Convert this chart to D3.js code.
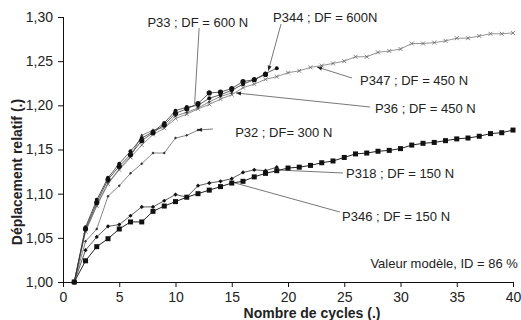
<!DOCTYPE html>
<html>
<head>
<meta charset="utf-8">
<script src="https://cdn.jsdelivr.net/npm/d3@7"></script>
<style>
  body { margin: 0; background: #fff; }
  text { font-family: "Liberation Sans", Arial, sans-serif; fill: #222; }
</style>
</head>
<body>
<svg id="chart"></svg>
<script>
document.addEventListener('DOMContentLoaded', function () {
    const width = 521, height = 320;
    const svg = d3.select("#chart").attr("width", width).attr("height", height);

    // values, cycle 1..n
    const p33  = [1.000, 1.060, 1.090, 1.116, 1.131, 1.144, 1.160, 1.169, 1.178, 1.191, 1.196, 1.202, 1.214, 1.215, 1.219, 1.227, 1.229, 1.235];
    const p344 = [1.000, 1.062, 1.093, 1.118, 1.134, 1.148, 1.163, 1.170, 1.180, 1.194, 1.198, 1.200, 1.208, 1.212, 1.217, 1.224, 1.229, 1.236, 1.242];
    const p347 = [1.000, 1.057, 1.086, 1.111, 1.127, 1.141, 1.155, 1.167, 1.174, 1.185, 1.190, 1.196, 1.201, 1.207, 1.212, 1.220, 1.224,
                  1.2295, 1.2325, 1.237, 1.239, 1.243, 1.245, 1.2475, 1.250, 1.255, 1.255, 1.260, 1.2615, 1.2638, 1.270, 1.270,
                  1.271, 1.273, 1.276, 1.276, 1.2785, 1.281, 1.281, 1.282];
    const p36  = [1.000, 1.058, 1.087, 1.112, 1.128, 1.142, 1.166, 1.172, 1.175, 1.188, 1.192, 1.197, 1.204, 1.210, 1.214];
    const p32  = [1.000, 1.046, 1.060, 1.097, 1.109, 1.123, 1.134, 1.146, 1.146, 1.163, 1.166, 1.172];
    const p318 = [1.000, 1.036, 1.051, 1.063, 1.065, 1.075, 1.085, 1.085, 1.092, 1.099, 1.096, 1.109, 1.112, 1.114, 1.117, 1.124, 1.127, 1.126, 1.130];
    const p346 = [1.000, 1.024, 1.040, 1.049, 1.060, 1.068, 1.068, 1.080, 1.086, 1.091, 1.096, 1.100, 1.104, 1.108, 1.112, 1.114, 1.119,
                  1.123, 1.126, 1.129, 1.130, 1.132, 1.135, 1.137, 1.141, 1.145, 1.146, 1.148, 1.149, 1.151, 1.155, 1.157, 1.158,
                  1.160, 1.162, 1.163, 1.165, 1.168, 1.169, 1.172];

    const xTicks = [0, 5, 10, 15, 20, 25, 30, 35, 40];
    const yTicks = [1.00, 1.05, 1.10, 1.15, 1.20, 1.25, 1.30];

    // label text, text position, leader start and end (data units)
    const labels = [
        { text: "P33 ; DF = 600 N",  at: [7.5, 1.2887],  from: [12.1, 1.2875], to: [11.7, 1.2015], arrow: false },
        { text: "P344 ; DF = 600N",  at: [18.67, 1.2949], from: [19.38, 1.292], to: [18.25, 1.2392], arrow: true },
        { text: "P347 ; DF = 450 N", at: [26.4, 1.2225], from: [25.69, 1.2309], to: [22.58, 1.2434], arrow: true },
        { text: "P36 ; DF = 450 N",  at: [27.73, 1.1908], from: [27.29, 1.1981], to: [15.38, 1.214], arrow: true },
        { text: "P32 ; DF= 300 N",   at: [15.3, 1.1647], from: [13.33, 1.1732], to: [11.91, 1.172], arrow: true },
        { text: "P318 ; DF = 150 N", at: [25.16, 1.1172], from: [24.89, 1.1234], to: [19.02, 1.1268], arrow: false },
        { text: "P346 ; DF = 150 N", at: [24.8, 1.0696], from: [24.62, 1.0792], to: [15.29, 1.1121], arrow: false }
    ];

    const x = d3.scaleLinear().domain([0, 40]).range([63, 513]);
    const y = d3.scaleLinear().domain([1.0, 1.3]).range([282, 17]);

    const series = [
        { data: p346, marker: "square",  size: 5,   color: "#111", line: "#222", lw: 1 },
        { data: p318, marker: "diamond", size: 2.1, color: "#111", line: "#333", lw: 0.8 },
        { data: p32,  marker: "diamond", size: 1.5, color: "#333", line: "#555", lw: 0.7 },
        { data: p36,  marker: "diamond", size: 1.5, color: "#333", line: "#555", lw: 0.7 },
        { data: p347, marker: "cross",   size: 2,   color: "#666", line: "#666", lw: 0.7 },
        { data: p344, marker: "circle",  size: 2,   color: "#111", line: "#333", lw: 0.8 },
        { data: p33,  marker: "circle",  size: 2.6, color: "#111", line: "#333", lw: 0.8 }
    ];

    const line = d3.line().x((d, i) => x(i + 1)).y(d => y(d));

    // axes
    const xAxis = svg.append("g")
        .attr("transform", `translate(0,${y(1.0)})`)
        .call(d3.axisBottom(x).tickValues(xTicks).tickSize(5).tickPadding(5).tickFormat(d3.format("d")));
    const yAxis = svg.append("g")
        .attr("transform", `translate(${x(0)},0)`)
        .call(d3.axisLeft(y).tickValues(yTicks).tickSize(5).tickPadding(5)
            .tickFormat(d => d3.format(".2f")(d).replace(".", ",")));
    [xAxis, yAxis].forEach(a => {
        a.selectAll("path").attr("stroke", "#111").attr("stroke-width", 1);
        a.selectAll("line").attr("stroke", "#111");
        a.selectAll("text").style("font-size", "14px").attr("fill", "#222");
    });
    xAxis.select(".domain").attr("d", `M${x(0)},0.5H${x(40)}`);
    yAxis.select(".domain").attr("d", `M0.5,${y(1.3)}V${y(1.0)}`);

    svg.append("text")
        .attr("x", (x(0) + x(40)) / 2 + 24)
        .attr("y", 318)
        .attr("text-anchor", "middle")
        .style("font-size", "14px").style("font-weight", "bold")
        .text("Nombre de cycles (.)");

    svg.append("text")
        .attr("transform", "translate(22,172) rotate(-90)")
        .attr("text-anchor", "middle")
        .style("font-size", "14px").style("font-weight", "bold")
        .text("Déplacement relatif (.)");

    // leader lines and labels
    const lab = svg.append("g");
    labels.forEach(l => {
        lab.append("line")
            .attr("x1", x(l.from[0])).attr("y1", y(l.from[1]))
            .attr("x2", x(l.to[0])).attr("y2", y(l.to[1]))
            .attr("stroke", "#555").attr("stroke-width", 0.8);
        if (l.arrow) {
            const ang = Math.atan2(y(l.to[1]) - y(l.from[1]), x(l.to[0]) - x(l.from[0]));
            lab.append("path")
                .attr("d", "M0,0L-5,-2L-5,2Z")
                .attr("fill", "#222")
                .attr("transform", `translate(${x(l.to[0])},${y(l.to[1])}) rotate(${ang * 180 / Math.PI})`);
        }
        lab.append("text")
            .attr("x", x(l.at[0])).attr("y", y(l.at[1]))
            .style("font-size", "13px")
            .text(l.text);
    });

    svg.append("text")
        .attr("x", x(40.44)).attr("y", y(1.0164))
        .attr("text-anchor", "end")
        .style("font-size", "13px")
        .text("Valeur modèle, ID = 86 %");

    // series
    series.forEach(s => {
        const g = svg.append("g");
        g.append("path")
            .datum(s.data)
            .attr("d", line)
            .attr("fill", "none")
            .attr("stroke", s.line)
            .attr("stroke-width", s.lw);

        const pts = g.selectAll(".pt").data(s.data).enter();
        const r = s.size;
        if (s.marker === "square") {
            pts.append("rect")
                .attr("x", (d, i) => x(i + 1) - r / 2).attr("y", d => y(d) - r / 2)
                .attr("width", r).attr("height", r).attr("fill", s.color);
        } else if (s.marker === "circle") {
            pts.append("circle")
                .attr("cx", (d, i) => x(i + 1)).attr("cy", d => y(d))
                .attr("r", r).attr("fill", s.color);
        } else if (s.marker === "diamond") {
            pts.append("path")
                .attr("d", (d, i) => {
                    const cx = x(i + 1), cy = y(d);
                    return `M${cx},${cy - r}L${cx + r},${cy}L${cx},${cy + r}L${cx - r},${cy}Z`;
                })
                .attr("fill", s.color);
        } else {
            pts.append("path")
                .attr("d", (d, i) => {
                    const cx = x(i + 1), cy = y(d);
                    return `M${cx - r},${cy - r}L${cx + r},${cy + r}M${cx - r},${cy + r}L${cx + r},${cy - r}`;
                })
                .attr("stroke", s.color).attr("stroke-width", 0.8).attr("fill", "none");
        }
    });
});
</script>
</body>
</html>
